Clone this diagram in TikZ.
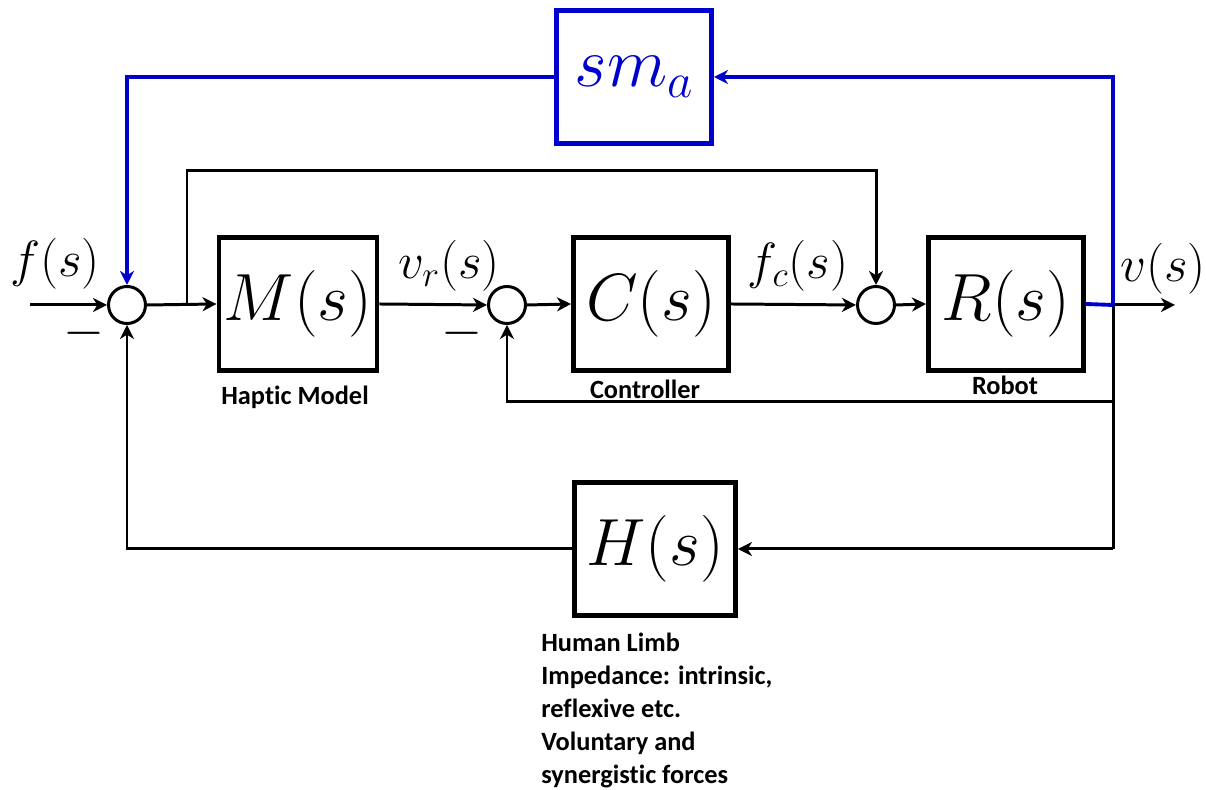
\RequirePackage{fix-cm}
\documentclass[tikz,border=0pt]{standalone}
\usepackage{fontspec}
\setsansfont{Carlito}[Ligatures=CommonOff]
\usepackage{xcolor}
\usepackage{tikz}
\usetikzlibrary{arrows.meta}
\definecolor{LoopBlue}{HTML}{0000CC}
\definecolor{LineBlack}{HTML}{000000}

\begin{document}
\begin{tikzpicture}[
  block/.style={rectangle, draw=LineBlack, line width=2.8pt, minimum width=3.1cm, minimum height=2.66cm, inner sep=0pt, font=\fontsize{38}{44}\selectfont},
  sumnode/.style={circle, draw=LineBlack, line width=1.7pt, minimum size=0.74cm, inner sep=0pt, fill=white},
  arrow/.style={-{Stealth[length=8pt,width=8pt,inset=2.5pt]}, line width=1.7pt, draw=LineBlack},
  wire/.style={line width=1.7pt, draw=LineBlack},
  bluewire/.style={line width=2.2pt, draw=LoopBlue},
  sig/.style={font=\fontsize{29}{32}\selectfont, inner sep=0pt},
  minus/.style={font=\fontsize{30}{32}\selectfont, inner sep=0pt},
  caption/.style={font=\sffamily\bfseries\fontsize{15}{18.8}\selectfont, inner sep=0pt}
]
\useasboundingbox (0,0) rectangle (24.12,15.8);
\node[sumnode] (sum1) at (2.54,9.70) {};
\node[block, minimum width=3.16cm] (model) at (5.96,9.72) {$M(s)$};
\node[sumnode] (sum2) at (10.14,9.70) {};
\node[block] (ctrl) at (13.02,9.72) {$C(s)$};
\node[sumnode] (sum3) at (17.52,9.70) {};
\node[block] (robot) at (20.12,9.72) {$R(s)$};
\node[block, draw=LoopBlue, text=LoopBlue, font=\fontsize{40}{44}\selectfont] (mass) at (12.68,14.26) {$sm_a$};
\node[block, minimum width=3.22cm] (human) at (13.10,4.82) {$H(s)$};
\coordinate (in) at (0.60,9.70);
\coordinate (branch) at (3.74,9.70);
\coordinate (bend) at (3.74,12.38);
\coordinate (tap) at (22.26,9.70);
\coordinate (out) at (23.50,9.70);
\coordinate (fb) at (22.26,7.76);
\coordinate (hb) at (22.26,4.82);
\draw[arrow] (in) -- (sum1.west);
\draw[arrow] (sum1.east) -- (model.west);
\draw[arrow] (branch) -- (bend) -| (sum3.north);
\draw[arrow] (model.east) -- (sum2.west);
\draw[arrow] (sum2.east) -- (ctrl.west);
\draw[arrow] (ctrl.east) -- (sum3.west);
\draw[arrow] (sum3.east) -- (robot.west);
\draw[arrow] (tap) -- (out);
\draw[wire] (tap) -- (hb);
\draw[arrow] (fb) -| (sum2.south);
\draw[arrow] (hb) -- (human.east);
\draw[arrow] (human.west) -| (sum1.south);
\draw[bluewire] (robot.east) -- (tap);
\draw[bluewire, -{Stealth[length=8pt,width=8pt,inset=2.5pt]}] (tap) |- (mass.east);
\draw[bluewire, -{Stealth[length=8pt,width=8pt,inset=2.5pt]}] (mass.west) -| (sum1.north);
\node[sig] (fs) at (1.10,10.52) {$f(s)$};
\node[sig] (vrs) at (8.98,10.48) {$v_r(s)$};
\node[sig] (fcs) at (15.96,10.48) {$f_c(s)$};
\node[sig] (vs) at (23.26,10.42) {$v(s)$};
\node[minus] (minus1) at (1.68,9.14) {$-$};
\node[minus] (minus2) at (9.24,9.14) {$-$};
\node[caption, anchor=base] (hapticlbl) at (5.90,7.70) {Haptic Model};
\node[caption, anchor=base] (ctrllbl) at (12.90,7.82) {Controller};
\node[caption, anchor=base] (robotlbl) at (20.10,7.90) {Robot};
\node[caption, anchor=north west, align=left] (humanlbl) at (10.82,3.14) {Human Limb\\Impedance: intrinsic,\\reflexive etc.\\Voluntary and\\synergistic forces};
\end{tikzpicture}
\end{document}
